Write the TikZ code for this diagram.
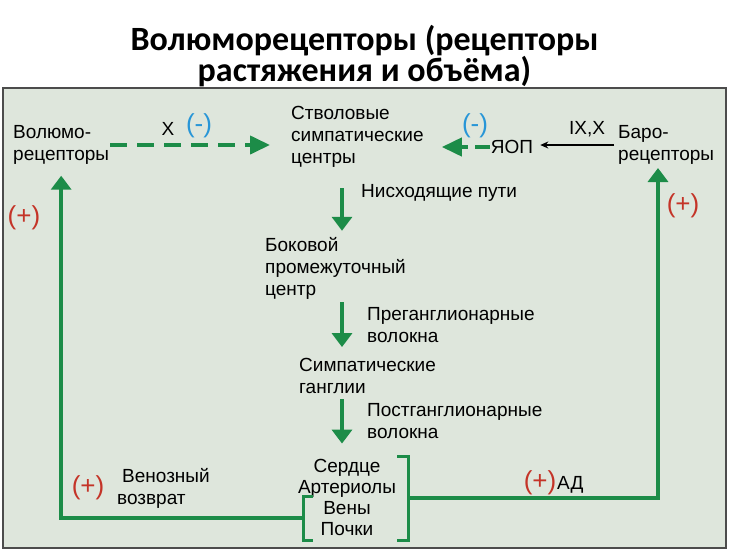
\documentclass[tikz,border=0pt]{standalone}
\usepackage{fontspec}
\setmainfont{Liberation Sans}
\newfontfamily\ttlfont{Carlito}
\usetikzlibrary{arrows.meta}
\definecolor{grn}{RGB}{28,140,72}
\definecolor{panel}{RGB}{222,230,220}
\definecolor{rd}{RGB}{196,52,40}
\definecolor{bl}{RGB}{40,150,215}
\newcommand{\pl}{\textcolor{rd}{(+)}}
\newcommand{\mn}{\textcolor{bl}{(-)}}

\begin{document}
\begin{tikzpicture}[x=1pt,y=-1pt,
    txt/.style={inner sep=1pt,align=left,font=\fontsize{19}{22}\selectfont},
    sgn/.style={inner sep=0pt,font=\fontsize{26}{26}\selectfont},
    garr/.style={grn,line width=4pt,-{Triangle[width=20pt,length=14pt]}},
    dsh/.style={grn,line width=4pt,dash pattern=on 17pt off 10pt,-{Triangle[width=18pt,length=20pt]}},
    brk/.style={grn,line width=3pt}]
    \useasboundingbox (0,0) rectangle (729,550);
    \node[align=center,inner sep=0pt,font=\ttlfont\bfseries\fontsize{34}{30}\selectfont] (ttl) at (364.5,56) {Волюморецепторы (рецепторы\\растяжения и объёма)};
    \draw[line width=2pt,draw=black!70,fill=panel] (3,88) rectangle (726,548);
    % top row
    \node[txt,anchor=west] (vol) at (12,145) {Волюмо-\\рецепторы};
    \node[txt,anchor=west] (ctr) at (290,137) {Стволовые\\симпатические\\центры};
    \node[txt] (yop) at (512,147) {ЯОП};
    \node[txt,anchor=west] (baro) at (617,145) {Баро-\\рецепторы};
    \node[txt] (x) at (168,129) {X};
    \node[sgn] (m1) at (199,126) {\mn};
    \node[sgn] (m2) at (475,126) {\mn};
    \node[txt] (ixx) at (587,129) {IX,X};
    \draw[dsh,shorten >=20pt] (vol.east) -- (vol.east -| ctr.west);
    \draw[dsh,dash pattern=on 15pt off 7pt,shorten >=17pt] (yop.west) -- (yop.west -| ctr.east);
    \draw[line width=1.2pt,-{Stealth[length=8pt,width=7pt]},shorten <=3pt,shorten >=6pt] (baro.west) -- (baro.west -| yop.east);
    % middle column
    \coordinate (c1) at (342,188);
    \node[txt,anchor=west] (nish) at (360,193) {Нисходящие пути};
    \node[txt,anchor=west] (bok) at (264,268) {Боковой\\промежуточный\\центр};
    \draw[garr,shorten >=5pt] (c1) -- (c1 |- bok.north);
    \coordinate (c2) at (342,302);
    \node[txt,anchor=west] (pre) at (366,325) {Преганглионарные\\волокна};
    \node[txt,anchor=west] (sym) at (298,376) {Симпатические\\ганглии};
    \draw[garr,shorten >=10pt] (c2) -- (c2 |- sym.north);
    \coordinate (c3) at (342,399);
    \node[txt,anchor=west] (post) at (366,421) {Постганглионарные\\волокна};
    \node[txt,align=center,font=\fontsize{19}{21}\selectfont] (org) at (347,497) {Сердце\\Артериолы\\Вены\\Почки};
    \draw[garr,shorten >=14pt] (c3) -- (c3 |- org.north);
    % brackets
    \coordinate (lb) at (303,518);
    \coordinate (rb) at (408,498);
    \draw[brk] (313,496) -- (303,496) -- (303,540) -- (313,540);
    \draw[brk] (397,456) -- (408,456) -- (408,540) -- (397,540);
    % feedback loops
    \coordinate (bt) at (658,168);
    \draw[garr,shorten >=10pt] (lb) -- (lb -| vol.south) -- (vol.south);
    \draw[garr] (rb) -- (rb -| bt) -- (bt);
    \node[sgn] (p1) at (24,218) {\pl};
    \node[sgn] (p2) at (683,206) {\pl};
    \node[sgn] (p3) at (88,488) {\pl};
    \node[txt,anchor=west] (ven) at (116,488) {\hspace*{5pt}Венозный\\возврат};
    \node[sgn] (p4) at (540,483) {\pl};
    \node[txt,anchor=west] (ad) at (556,485) {АД};
\end{tikzpicture}
\end{document}
